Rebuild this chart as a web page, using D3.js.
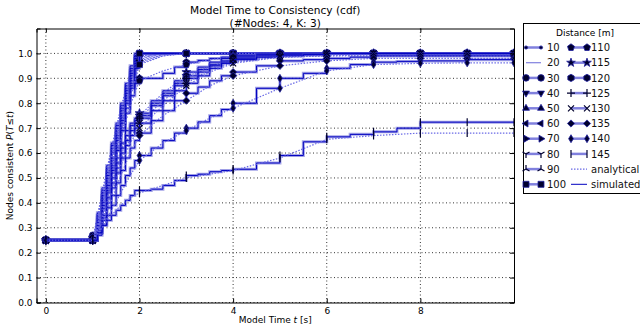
<!DOCTYPE html>
<html>
<head>
<meta charset="utf-8">
<script src="https://cdn.jsdelivr.net/npm/d3@7"></script>
<style>
body { margin: 0; background: #fff; }
svg { display: block; font-family: "DejaVu Sans", sans-serif; }
</style>
</head>
<body>
<svg id="chart" width="640" height="330"></svg>
<script>
var distances = [10, 20, 30, 40, 50, 60, 70, 80, 90, 100, 110, 115, 120, 125, 130, 135, 140, 145];
var markers = [".", ",", "o", "v", "^", "<", ">", "1", "2", "s", "p", "*", "h", "+", "x", "D", "d", "|"];

// simulated cdf (step curve), sampled at simTimes
var simTimes = [0, 1, 1.1, 1.2, 1.3, 1.4, 1.5, 1.6, 1.7, 1.8, 1.9,
                2, 2.25, 2.5, 2.75, 3, 3.25, 3.5, 3.75, 4, 4.5, 5, 5.5, 6, 6.5, 7, 7.5, 8, 9, 10];
var simulated = [
  [0.25, 0.27, 0.36, 0.46, 0.55, 0.64, 0.72, 0.80, 0.88, 0.95, 1,    1, 1, 1, 1, 1, 1, 1, 1, 1, 1, 1, 1, 1, 1, 1, 1, 1, 1, 1],
  [0.25, 0.26, 0.35, 0.45, 0.54, 0.63, 0.71, 0.79, 0.87, 0.94, 0.99, 1, 1, 1, 1, 1, 1, 1, 1, 1, 1, 1, 1, 1, 1, 1, 1, 1, 1, 1],
  [0.25, 0.27, 0.35, 0.44, 0.53, 0.62, 0.70, 0.78, 0.86, 0.93, 0.99, 1, 1, 1, 1, 1, 1, 1, 1, 1, 1, 1, 1, 1, 1, 1, 1, 1, 1, 1],
  [0.25, 0.26, 0.34, 0.43, 0.52, 0.61, 0.69, 0.77, 0.85, 0.92, 0.98, 1, 1, 1, 1, 1, 1, 1, 1, 1, 1, 1, 1, 1, 1, 1, 1, 1, 1, 1],
  [0.25, 0.26, 0.34, 0.43, 0.51, 0.60, 0.68, 0.76, 0.84, 0.91, 0.98, 1, 1, 1, 1, 1, 1, 1, 1, 1, 1, 1, 1, 1, 1, 1, 1, 1, 1, 1],
  [0.25, 0.26, 0.33, 0.42, 0.50, 0.58, 0.67, 0.75, 0.83, 0.90, 0.97, 1, 1, 1, 1, 1, 1, 1, 1, 1, 1, 1, 1, 1, 1, 1, 1, 1, 1, 1],
  [0.25, 0.25, 0.33, 0.41, 0.49, 0.57, 0.66, 0.74, 0.82, 0.89, 0.97, 1, 1, 1, 1, 1, 1, 1, 1, 1, 1, 1, 1, 1, 1, 1, 1, 1, 1, 1],
  [0.25, 0.25, 0.32, 0.40, 0.48, 0.56, 0.65, 0.73, 0.81, 0.88, 0.96, 1, 1, 1, 1, 1, 1, 1, 1, 1, 1, 1, 1, 1, 1, 1, 1, 1, 1, 1],
  [0.25, 0.25, 0.31, 0.39, 0.47, 0.55, 0.63, 0.72, 0.80, 0.87, 0.95, 1, 1, 1, 1, 1, 1, 1, 1, 1, 1, 1, 1, 1, 1, 1, 1, 1, 1, 1],
  [0.25, 0.25, 0.30, 0.38, 0.46, 0.54, 0.62, 0.70, 0.78, 0.86, 0.94, 1, 1, 1, 1, 1, 1, 1, 1, 1, 1, 1, 1, 1, 1, 1, 1, 1, 1, 1],
  [0.25, 0.26, 0.31, 0.38, 0.45, 0.53, 0.61, 0.69, 0.76, 0.83, 0.88,
   0.90, 0.90, 0.92, 0.945, 0.965, 0.972, 0.98, 0.985, 0.99, 1, 1, 1, 1, 1, 1, 1, 1, 1, 1],
  [0.25, 0.26, 0.31, 0.38, 0.45, 0.52, 0.58, 0.64, 0.69, 0.72, 0.74,
   0.76, 0.81, 0.85, 0.89, 0.925, 0.945, 0.965, 0.98, 0.99, 0.995, 1, 1, 1, 1, 1, 1, 1, 1, 1],
  [0.25, 0.26, 0.30, 0.37, 0.44, 0.50, 0.56, 0.62, 0.67, 0.71, 0.73,
   0.75, 0.80, 0.84, 0.88, 0.91, 0.935, 0.955, 0.97, 0.985, 0.995, 1, 1, 1, 1, 1, 1, 1, 1, 1],
  [0.25, 0.25, 0.29, 0.35, 0.42, 0.48, 0.54, 0.60, 0.65, 0.69, 0.72,
   0.74, 0.79, 0.83, 0.87, 0.90, 0.925, 0.95, 0.965, 0.98, 0.99, 0.995, 0.995, 1, 1, 1, 1, 1, 1, 1],
  [0.25, 0.25, 0.28, 0.34, 0.40, 0.46, 0.52, 0.58, 0.63, 0.67, 0.70,
   0.72, 0.77, 0.81, 0.85, 0.88, 0.91, 0.94, 0.96, 0.975, 0.985, 0.99, 0.995, 1, 1, 1, 1, 1, 1, 1],
  [0.25, 0.25, 0.28, 0.33, 0.38, 0.43, 0.48, 0.53, 0.58, 0.62, 0.65,
   0.68, 0.73, 0.77, 0.81, 0.84, 0.865, 0.89, 0.91, 0.925, 0.95, 0.97, 0.975, 0.98, 0.985, 0.99, 0.99, 0.99, 0.99, 0.99],
  [0.25, 0.25, 0.27, 0.31, 0.35, 0.39, 0.43, 0.47, 0.51, 0.54, 0.57,
   0.59, 0.62, 0.65, 0.68, 0.70, 0.725, 0.75, 0.775, 0.80, 0.86, 0.90, 0.92, 0.94, 0.955, 0.965, 0.968, 0.97, 0.975, 0.975],
  [0.25, 0.25, 0.28, 0.31, 0.33, 0.35, 0.37, 0.39, 0.41, 0.43, 0.45,
   0.45, 0.455, 0.47, 0.49, 0.51, 0.515, 0.525, 0.53, 0.535, 0.56, 0.59, 0.645, 0.665, 0.675, 0.685, 0.70, 0.724, 0.724, 0.724]
];

// analytical cdf, sampled at anaTimes
var anaTimes = [0, 1, 1.2, 1.4, 1.6, 1.8, 2, 2.5, 3, 3.5, 4, 5, 6, 7, 8, 9, 10];
var analytical = [
  [0.25, 0.25, 0.44, 0.62, 0.78, 0.92, 0.995, 1, 1, 1, 1, 1, 1, 1, 1, 1, 1],
  [0.25, 0.25, 0.43, 0.61, 0.77, 0.91, 0.99, 1, 1, 1, 1, 1, 1, 1, 1, 1, 1],
  [0.25, 0.25, 0.42, 0.60, 0.76, 0.90, 0.99, 1, 1, 1, 1, 1, 1, 1, 1, 1, 1],
  [0.25, 0.25, 0.41, 0.59, 0.75, 0.89, 0.985, 1, 1, 1, 1, 1, 1, 1, 1, 1, 1],
  [0.25, 0.25, 0.40, 0.58, 0.74, 0.88, 0.98, 1, 1, 1, 1, 1, 1, 1, 1, 1, 1],
  [0.25, 0.25, 0.39, 0.56, 0.72, 0.87, 0.975, 1, 1, 1, 1, 1, 1, 1, 1, 1, 1],
  [0.25, 0.25, 0.38, 0.55, 0.71, 0.86, 0.97, 0.995, 1, 1, 1, 1, 1, 1, 1, 1, 1],
  [0.25, 0.25, 0.37, 0.54, 0.70, 0.85, 0.965, 0.995, 1, 1, 1, 1, 1, 1, 1, 1, 1],
  [0.25, 0.25, 0.36, 0.52, 0.68, 0.83, 0.96, 0.99, 1, 1, 1, 1, 1, 1, 1, 1, 1],
  [0.25, 0.25, 0.35, 0.51, 0.67, 0.82, 0.955, 0.99, 1, 1, 1, 1, 1, 1, 1, 1, 1],
  [0.25, 0.25, 0.36, 0.50, 0.65, 0.79, 0.89, 0.93, 0.955, 0.975, 0.985, 0.995, 1, 1, 1, 1, 1],
  [0.25, 0.25, 0.36, 0.49, 0.61, 0.70, 0.75, 0.84, 0.91, 0.95, 0.975, 0.99, 0.995, 1, 1, 1, 1],
  [0.25, 0.25, 0.35, 0.47, 0.59, 0.68, 0.74, 0.83, 0.90, 0.945, 0.97, 0.99, 0.995, 1, 1, 1, 1],
  [0.25, 0.25, 0.34, 0.45, 0.57, 0.66, 0.72, 0.81, 0.88, 0.935, 0.965, 0.985, 0.99, 0.995, 0.995, 0.995, 0.995],
  [0.25, 0.25, 0.33, 0.43, 0.55, 0.64, 0.70, 0.79, 0.87, 0.925, 0.96, 0.985, 0.99, 0.99, 0.99, 0.99, 0.99],
  [0.25, 0.25, 0.32, 0.41, 0.51, 0.60, 0.67, 0.75, 0.81, 0.87, 0.91, 0.95, 0.97, 0.98, 0.98, 0.98, 0.98],
  [0.25, 0.25, 0.30, 0.37, 0.44, 0.51, 0.57, 0.64, 0.69, 0.74, 0.78, 0.86, 0.93, 0.955, 0.96, 0.962, 0.962],
  [0.25, 0.25, 0.30, 0.35, 0.39, 0.42, 0.44, 0.47, 0.50, 0.515, 0.53, 0.58, 0.655, 0.67, 0.68, 0.68, 0.68]
];

var xTicks = [0, 2, 4, 6, 8];
var yTicks = [0, 0.1, 0.2, 0.3, 0.4, 0.5, 0.6, 0.7, 0.8, 0.9, 1.0];

var svg = d3.select("#chart");
var x = d3.scaleLinear().domain([-0.2, 10]).range([36.5, 514]);
var y = d3.scaleLinear().domain([0, 1.1]).range([302.5, 28.5]);
var x0 = x.range()[0], x1 = x.range()[1], y0 = y.range()[0], y1 = y.range()[1];

// marker shapes, roughly like matplotlib's
function poly(n, r, rot) {
  var pts = [];
  for (var i = 0; i < n; i++) {
    var a = rot + i * 2 * Math.PI / n;
    pts.push((r * Math.sin(a)).toFixed(2) + "," + (-r * Math.cos(a)).toFixed(2));
  }
  return "M" + pts.join("L") + "Z";
}
function circ(r) {
  return "M" + r + ",0A" + r + "," + r + " 0 1,1 " + (-r) + ",0A" + r + "," + r + " 0 1,1 " + r + ",0Z";
}
function star(ro, ri) {
  var s = "";
  for (var i = 0; i < 10; i++) {
    var a = i * Math.PI / 5, r = i % 2 ? ri : ro;
    s += (i ? "L" : "M") + (r * Math.sin(a)).toFixed(2) + "," + (-r * Math.cos(a)).toFixed(2);
  }
  return s + "Z";
}
var markerShapes = {
  ".": circ(1.6), ",": "", "o": circ(3.3),
  "v": poly(3, 4, Math.PI), "^": poly(3, 4, 0), "<": poly(3, 4, -Math.PI / 2), ">": poly(3, 4, Math.PI / 2),
  "1": "M0,0V4M0,0L-3.5,-2M0,0L3.5,-2", "2": "M0,0V-4M0,0L-3.5,2M0,0L3.5,2",
  "s": "M-3,-3H3V3H-3Z", "p": poly(5, 3.7, 0), "*": star(4.6, 1.9), "h": poly(6, 3.7, 0),
  "+": "M-4,0H4M0,-4V4", "x": "M-3,-3L3,3M-3,3L3,-3",
  "D": poly(4, 3.6, 0), "d": "M0,-4L2.4,0L0,4L-2.4,0Z", "|": "M0,-4V4"
};
var strokeOnly = ["1", "2", "+", "x", "|"];

function drawMarker(g, m, px, py) {
  if (!markerShapes[m]) return;
  var open = strokeOnly.indexOf(m) >= 0;
  g.append("path")
    .attr("d", markerShapes[m])
    .attr("transform", "translate(" + px + "," + py + ")")
    .attr("fill", open ? "none" : "#00002e")
    .attr("stroke", open ? "#00002e" : "#2020a0")
    .attr("stroke-width", open ? 1.2 : 0.8);
}

svg.append("clipPath").attr("id", "plotclip")
  .append("rect").attr("x", x0).attr("y", y1).attr("width", x1 - x0).attr("height", y0 - y1);

// grid
var grid = svg.append("g").attr("stroke", "#000").attr("stroke-width", 0.8).attr("stroke-dasharray", "1,2.5");
xTicks.forEach(function(t) {
  grid.append("line").attr("x1", x(t)).attr("x2", x(t)).attr("y1", y0).attr("y2", y1);
});
yTicks.forEach(function(t) {
  grid.append("line").attr("x1", x0).attr("x2", x1).attr("y1", y(t)).attr("y2", y(t));
});

var plot = svg.append("g").attr("clip-path", "url(#plotclip)");
var stepLine = d3.line().x(function(d) { return x(d[0]); }).y(function(d) { return y(d[1]); }).curve(d3.curveStepAfter);
var smoothLine = d3.line().x(function(d) { return x(d[0]); }).y(function(d) { return y(d[1]); });

distances.forEach(function(dist, i) {
  var sim = simTimes.map(function(t, j) { return [t, simulated[i][j]]; });
  var ana = anaTimes.map(function(t, j) { return [t, analytical[i][j]]; });
  plot.append("path").attr("d", stepLine(sim)).attr("fill", "none")
    .attr("stroke", "#4a4ad0").attr("stroke-opacity", 0.5).attr("stroke-width", 3);
  plot.append("path").attr("d", stepLine(sim)).attr("fill", "none")
    .attr("stroke", "#0000c0").attr("stroke-width", 1);
  plot.append("path").attr("d", smoothLine(ana)).attr("fill", "none")
    .attr("stroke", "#6a6ae6").attr("stroke-width", 1.2).attr("stroke-dasharray", "1.5,1.5");
  var mg = plot.append("g");
  sim.concat(ana).forEach(function(d) {
    if (Number.isInteger(d[0])) drawMarker(mg, markers[i], x(d[0]), y(d[1]));
  });
});

// axes frame with inward ticks on all sides
var fmt = d3.format(".1f");
svg.append("g").attr("transform", "translate(" + x0 + ",0)")
  .call(d3.axisLeft(y).tickValues(yTicks).tickSize(-4).tickPadding(4).tickFormat(fmt));
svg.append("g").attr("transform", "translate(" + x1 + ",0)")
  .call(d3.axisRight(y).tickValues(yTicks).tickSize(-4).tickFormat(""));
svg.append("g").attr("transform", "translate(0," + y0 + ")")
  .call(d3.axisBottom(x).tickValues(xTicks).tickSize(-4).tickPadding(5).tickFormat(d3.format("d")));
svg.append("g").attr("transform", "translate(0," + y1 + ")")
  .call(d3.axisTop(x).tickValues(xTicks).tickSize(-4).tickFormat(""));
svg.selectAll(".domain").attr("stroke", "#000").attr("stroke-width", 1);
svg.selectAll(".tick line").attr("stroke", "#000");
svg.selectAll(".tick text").attr("font-family", "DejaVu Sans").attr("font-size", 9).attr("fill", "#000");

// titles
var cx = (x0 + x1) / 2;
svg.append("text").attr("x", cx).attr("y", 14).attr("text-anchor", "middle").attr("font-size", 10.6)
  .text("Model Time to Consistency (cdf)");
svg.append("text").attr("x", cx).attr("y", 27).attr("text-anchor", "middle").attr("font-size", 10.6)
  .text("(#Nodes: 4, K: 3)");

var xl = svg.append("text").attr("x", cx).attr("y", 323).attr("text-anchor", "middle").attr("font-size", 9);
xl.append("tspan").text("Model Time ");
xl.append("tspan").attr("font-style", "italic").text("t");
xl.append("tspan").text(" [s]");

var yl = svg.append("text").attr("transform", "translate(13," + ((y0 + y1) / 2) + ") rotate(-90)")
  .attr("text-anchor", "middle").attr("font-size", 9);
yl.append("tspan").text("Nodes consistent ");
yl.append("tspan").attr("font-style", "italic").text("P");
yl.append("tspan").text("(");
yl.append("tspan").attr("font-style", "italic").text("T");
yl.append("tspan").text("≤");
yl.append("tspan").attr("font-style", "italic").text("t");
yl.append("tspan").text(")");

// legend
var lg = svg.append("g").attr("font-weight", "normal");
lg.append("rect").attr("x", 523.5).attr("y", 23.5).attr("width", 130).attr("height", 170)
  .attr("fill", "#fff").attr("stroke", "#000").attr("stroke-width", 1);
lg.append("text").attr("x", 585).attr("y", 36).attr("text-anchor", "middle").attr("font-size", 9)
  .text("Distance [m]");
var rowY = function(r) { return 47.5 + r * 15.2; };
var cols = [{ hx0: 526, hx1: 541, tx: 547 }, { hx0: 571, hx1: 587, tx: 591 }];
var entries = distances.map(function(d, i) { return { label: String(d), kind: "dist", m: markers[i] }; });
entries.push({ label: "analytical", kind: "ana" });
entries.push({ label: "simulated", kind: "sim" });
entries.forEach(function(e, k) {
  var c = cols[k < 10 ? 0 : 1], ry = rowY(k % 10);
  if (e.kind == "dist") {
    lg.append("line").attr("x1", c.hx0).attr("x2", c.hx1).attr("y1", ry).attr("y2", ry)
      .attr("stroke", "#4a4ad0").attr("stroke-opacity", 0.7).attr("stroke-width", e.m == "," ? 1.2 : 2.5);
    drawMarker(lg, e.m, c.hx0, ry);
    drawMarker(lg, e.m, c.hx1, ry);
  } else if (e.kind == "ana") {
    lg.append("line").attr("x1", c.hx0).attr("x2", c.hx1).attr("y1", ry).attr("y2", ry)
      .attr("stroke", "#6a6ae6").attr("stroke-width", 1.2).attr("stroke-dasharray", "1.5,1.5");
  } else {
    lg.append("line").attr("x1", c.hx0).attr("x2", c.hx1).attr("y1", ry).attr("y2", ry)
      .attr("stroke", "#0000c0").attr("stroke-width", 1);
  }
  lg.append("text").attr("x", c.tx).attr("y", ry + 3.6).attr("font-size", 10).attr("fill", "#111").text(e.label);
});
</script>
</body>
</html>
